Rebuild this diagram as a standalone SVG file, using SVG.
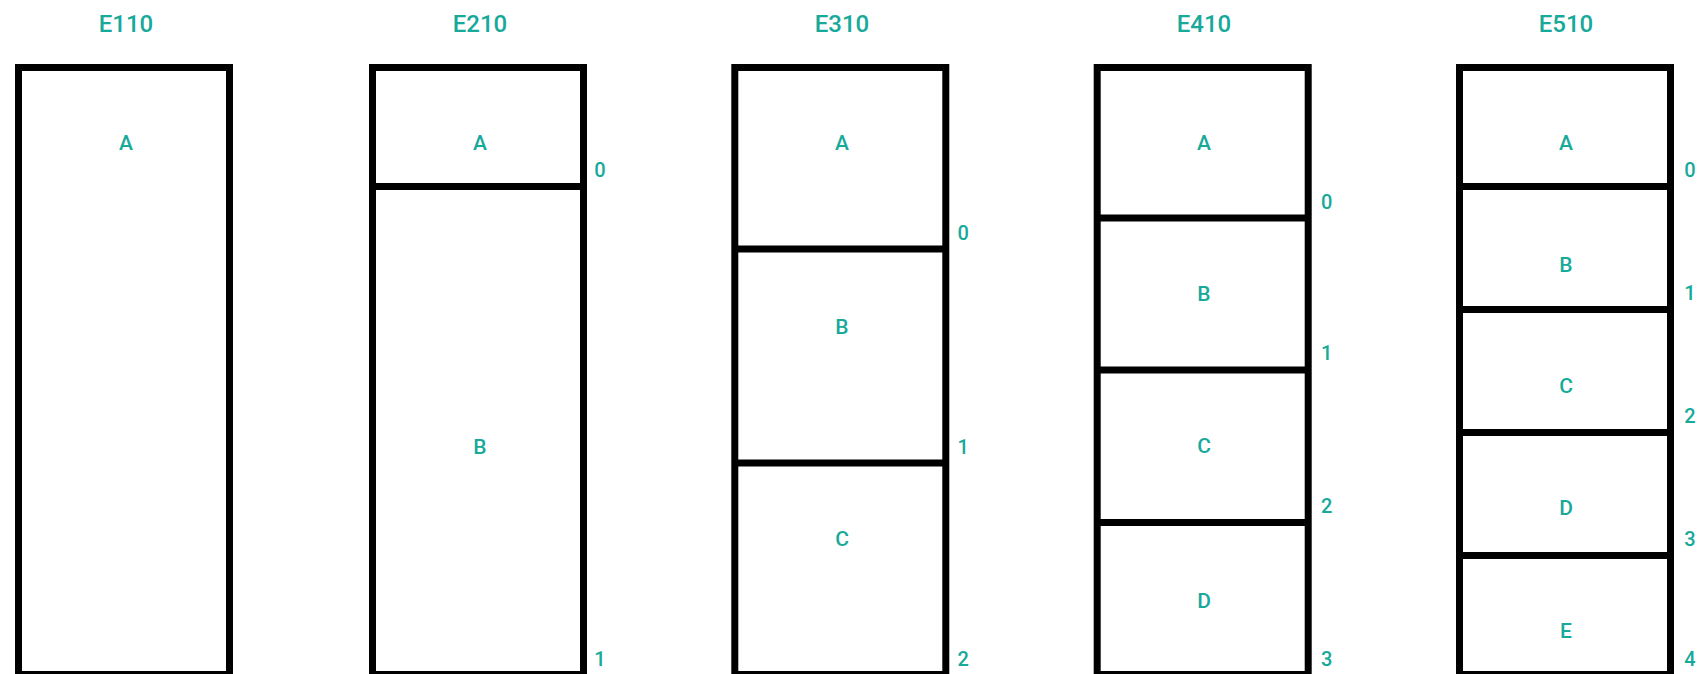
<svg xmlns="http://www.w3.org/2000/svg" width="1699" height="674" viewBox="0 0 1699 674">
<style>
.box{fill:#fff;stroke:#000;stroke-width:7}
.div{stroke:#000;stroke-width:7}
.t{font-family:Roboto,"Liberation Sans",sans-serif;font-weight:500;fill:#17a99a;text-anchor:middle}
.title{font-size:24px}
.lab{font-size:21px}
.num{font-size:20px}
</style>
<rect width="1699" height="674" fill="#fff"/>
<g id="E110">
<text class="t title" x="126" y="32">E110</text>
<rect class="box" x="18.5" y="67.5" width="211" height="607"/>
<text class="t lab" x="126" y="150">A</text>
</g>
<g id="E210">
<text class="t title" x="480" y="32">E210</text>
<rect class="box" x="372.5" y="67.5" width="211" height="607"/>
<line class="div" x1="372.5" y1="186.5" x2="583.5" y2="186.5"/>
<text class="t lab" x="480" y="150">A</text>
<text class="t lab" x="480" y="454">B</text>
<text class="t num" x="600" y="177">0</text>
<text class="t num" x="600" y="666">1</text>
</g>
<g id="E310">
<text class="t title" x="842" y="32">E310</text>
<rect class="box" x="734.8" y="67.5" width="211" height="607"/>
<line class="div" x1="734.8" y1="249" x2="945.8" y2="249"/>
<line class="div" x1="734.8" y1="463" x2="945.8" y2="463"/>
<text class="t lab" x="842" y="150">A</text>
<text class="t lab" x="842" y="334">B</text>
<text class="t lab" x="842" y="546">C</text>
<text class="t num" x="963.3" y="240">0</text>
<text class="t num" x="963.3" y="454">1</text>
<text class="t num" x="963.3" y="666">2</text>
</g>
<g id="E410">
<text class="t title" x="1204" y="32">E410</text>
<rect class="box" x="1097.2" y="67.5" width="211" height="607"/>
<line class="div" x1="1097.2" y1="218" x2="1308.2" y2="218"/>
<line class="div" x1="1097.2" y1="370" x2="1308.2" y2="370"/>
<line class="div" x1="1097.2" y1="522.5" x2="1308.2" y2="522.5"/>
<text class="t lab" x="1204" y="150">A</text>
<text class="t lab" x="1204" y="301">B</text>
<text class="t lab" x="1204" y="453">C</text>
<text class="t lab" x="1204" y="608">D</text>
<text class="t num" x="1326.6" y="209">0</text>
<text class="t num" x="1326.6" y="360">1</text>
<text class="t num" x="1326.6" y="513">2</text>
<text class="t num" x="1326.6" y="666">3</text>
</g>
<g id="E510">
<text class="t title" x="1566" y="32">E510</text>
<rect class="box" x="1459.5" y="67.5" width="211" height="607"/>
<line class="div" x1="1459.5" y1="186.5" x2="1670.5" y2="186.5"/>
<line class="div" x1="1459.5" y1="309.5" x2="1670.5" y2="309.5"/>
<line class="div" x1="1459.5" y1="432.5" x2="1670.5" y2="432.5"/>
<line class="div" x1="1459.5" y1="555.5" x2="1670.5" y2="555.5"/>
<text class="t lab" x="1566" y="150">A</text>
<text class="t lab" x="1566" y="272">B</text>
<text class="t lab" x="1566" y="393">C</text>
<text class="t lab" x="1566" y="515">D</text>
<text class="t lab" x="1566" y="638">E</text>
<text class="t num" x="1690" y="177">0</text>
<text class="t num" x="1690" y="300">1</text>
<text class="t num" x="1690" y="423">2</text>
<text class="t num" x="1690" y="546">3</text>
<text class="t num" x="1690" y="666">4</text>
</g>
<g id="connectors"/>
</svg>
